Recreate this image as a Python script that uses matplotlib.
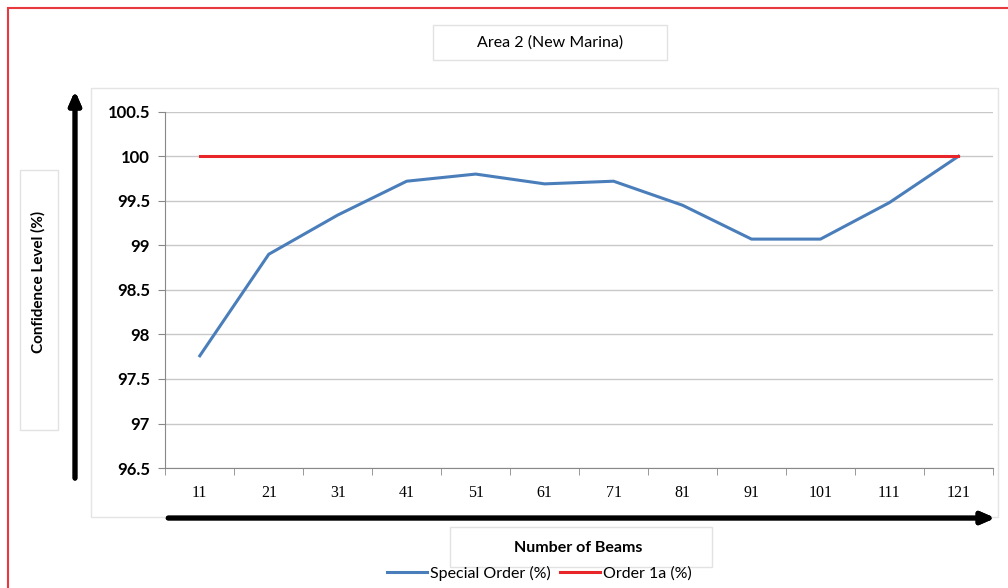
import matplotlib.pyplot as plt
import numpy as np
from matplotlib.patches import Rectangle

beams = ['11', '21', '31', '41', '51', '61', '71', '81', '91', '101', '111', '121']
special_order = [97.76, 98.9, 99.34, 99.72, 99.8, 99.69, 99.72, 99.45, 99.07, 99.07, 99.48, 100.0]
order_1a = [100, 100, 100, 100, 100, 100, 100, 100, 100, 100, 100, 100]

fig = plt.figure(figsize=(10.08, 5.88), dpi=100)
ax = fig.add_axes([0.164, 0.204, 0.821, 0.606])

x = np.arange(len(beams))
ax.plot(x, special_order, color='#4A7EBB', lw=2.2, label='Special Order (%)')
ax.plot(x, order_1a, color='#E8262A', lw=2.2, label='Order 1a (%)')

ax.set_xlim(-0.5, len(beams) - 0.5)
ax.set_ylim(96.5, 100.5)
ax.set_yticks(np.arange(96.5, 100.51, 0.5))
ax.set_yticklabels(['96.5', '97', '97.5', '98', '98.5', '99', '99.5', '100', '100.5'],
                   fontfamily='Lato', fontweight='bold', fontsize=12)
ax.set_xticks(x)
ax.set_xticklabels(beams, fontfamily='Liberation Serif', fontsize=11.5)
ax.set_xticks(np.arange(-0.5, len(beams)), minor=True)
ax.tick_params(axis='x', which='major', length=0, pad=12)
ax.tick_params(axis='x', which='minor', length=5, color='#888888', direction='out')
ax.tick_params(axis='y', length=5, color='#888888', pad=6)
ax.grid(axis='y', color='#c8c8c8', lw=1)
ax.set_axisbelow(True)
for s in ['top', 'right']:
    ax.spines[s].set_visible(False)
ax.spines['left'].set_color('#888888')
ax.spines['bottom'].set_color('#888888')

# outer red border and light plot-area frame
fig.patches.append(Rectangle((0.008, -0.05), 1.1, 1.036, transform=fig.transFigure,
                             fill=False, edgecolor='#E8393F', lw=1.5))
fig.patches.append(Rectangle((0.09, 0.12), 0.9, 0.73, transform=fig.transFigure,
                             fill=False, edgecolor='#e4e4e4', lw=1))

# text boxes
for bx in [(0.4296, 0.898, 0.2321, 0.0595), (0.0198, 0.2687, 0.0377, 0.442), (0.4464, 0.0357, 0.26, 0.068)]:
    fig.patches.append(Rectangle(bx[:2], bx[2], bx[3], transform=fig.transFigure,
                                 fc='white', edgecolor='#e2e2e2', lw=1, zorder=1))

fig.text(0.546, 0.927, 'Area 2 (New Marina)', ha='center', va='center', fontfamily='Lato', fontsize=11.5)
fig.text(0.038, 0.52, 'Confidence Level (%)', rotation=90, ha='center', va='center',
         fontfamily='Lato', fontweight='bold', fontsize=11)
fig.text(0.574, 0.068, 'Number of Beams', ha='center', va='center', fontfamily='Lato',
         fontweight='bold', fontsize=11.5)

# axis arrows
fig.add_artist(plt.annotate('', xy=(0.0744, 0.85), xytext=(0.0744, 0.182), xycoords='figure fraction',
                            arrowprops=dict(arrowstyle='-|>,head_length=0.8,head_width=0.35', lw=3.5, color='black')))
fig.add_artist(plt.annotate('', xy=(0.99, 0.119), xytext=(0.164, 0.119), xycoords='figure fraction',
                            arrowprops=dict(arrowstyle='-|>,head_length=0.8,head_width=0.35', lw=3.5, color='black')))

fig.legend(loc='center', bbox_to_anchor=(0.535, 0.025), ncol=2, frameon=False,
           prop={'family': 'Lato', 'size': 11.5}, handlelength=2.5, handletextpad=0.2, columnspacing=0.6)

fig.savefig('out.png', dpi=100)
